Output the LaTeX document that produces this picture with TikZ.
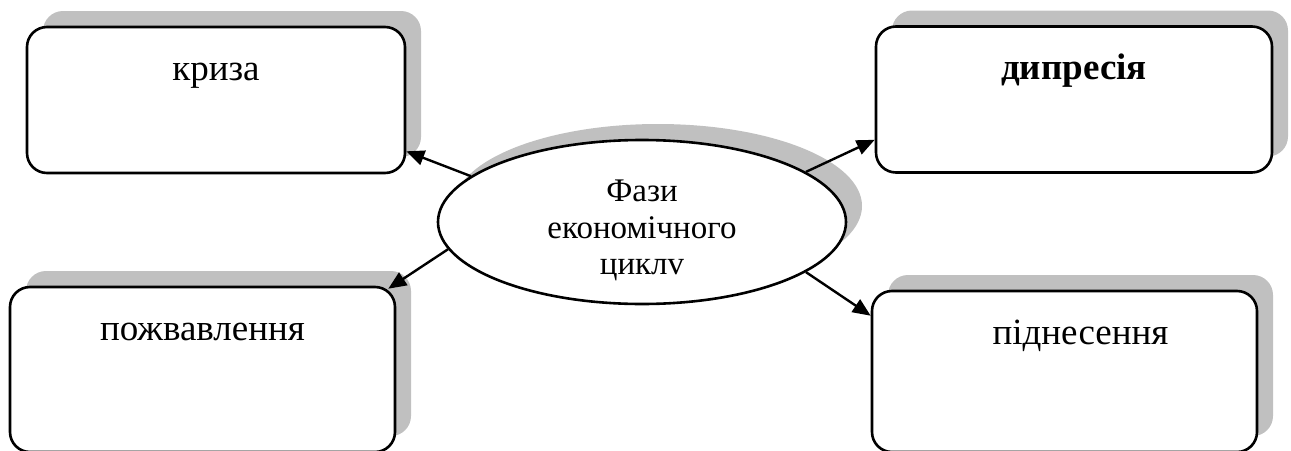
\documentclass[tikz,border=0pt]{standalone}
\usepackage{fontspec}
\setmainfont{Liberation Serif}
\usetikzlibrary{arrows.meta,shapes.geometric,shadows}
\definecolor{shade}{HTML}{C0C0C0}
\begin{document}
\begin{tikzpicture}[
  x=1pt, y=-1pt,
  >={Triangle[length=18pt, width=15pt]},
  raised/.style={drop shadow={shadow xshift=16pt, shadow yshift=16pt, fill=shade, opacity=1}},
  phase/.style={draw, line width=2.6pt, rounded corners=20pt, fill=white, inner sep=0pt,
    text height=53pt, font=\fontsize{37}{42}\selectfont, raised},
  hub/.style={ellipse, draw, line width=2.6pt, fill=white, inner sep=0pt,
    minimum width=408pt, minimum height=164pt,
    font=\fontsize{33}{36.5}\selectfont, raised},
  flow/.style={->, line width=2.4pt},
]
\useasboundingbox (0,0) rectangle (1291,450);
% four phases around the cycle
\node[phase, minimum width=378pt, text depth=93pt] (kriza) at (216,100) {криза};
\node[phase, minimum width=396pt, text depth=93pt] (depr) at (1074,99.5) {\textbf{дипресія}};
\node[phase, minimum width=385pt, text depth=112pt] (pozh) at (202.5,369.5) {пожвавлення};
\node[phase, minimum width=385pt, text depth=108pt] (pidn) at (1064.5,371.5) {\hspace*{32pt}піднесення};

% centre
\node[hub] (cycle) at (642,222) {\raisebox{0pt}[\dimexpr\height+9pt\relax][\dimexpr\depth-9pt\relax]{\begin{tabular}{@{}c@{}}Фази\\економічного\\циклv\end{tabular}}};

\draw[flow] (cycle.165) -- ([yshift=23pt]kriza.south east);
\draw[flow] (cycle.17) -- ([yshift=34pt]depr.south west);
\draw[flow] (cycle.188) -- ([xshift=-8pt,yshift=-3pt]pozh.north east);
\draw[flow] (cycle.343) -- ([yshift=-26pt]pidn.north west);
\end{tikzpicture}
\end{document}
